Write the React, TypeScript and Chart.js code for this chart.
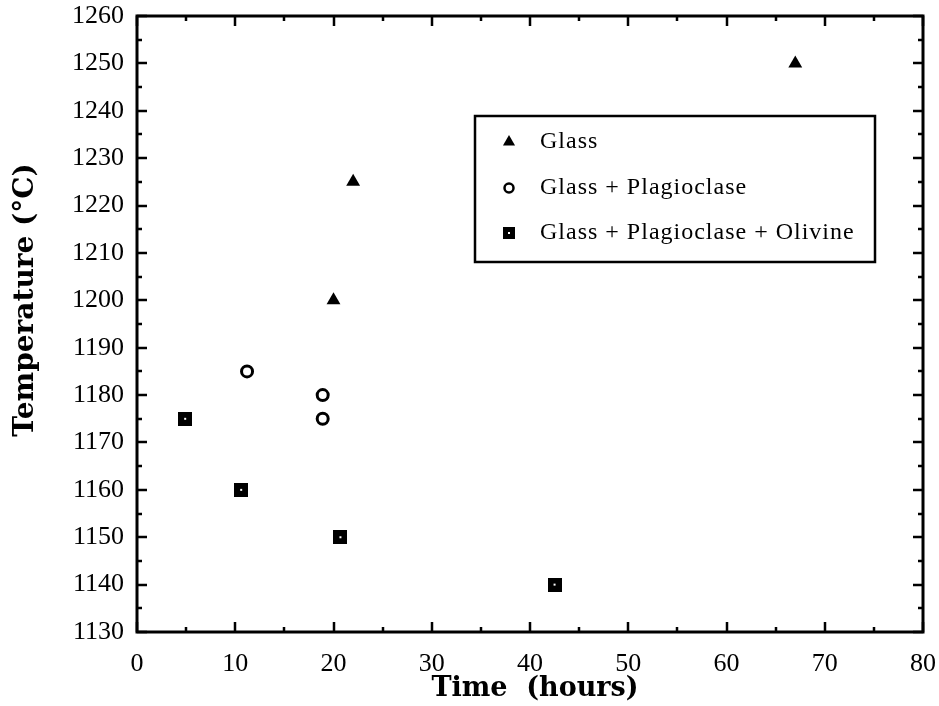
import React, { useEffect, useRef } from 'react';
import { Chart, registerables } from 'chart.js';

Chart.register(...registerables);

// ---- data ----
const glassTime = [20, 22, 67];
const glassTemp = [1200, 1225, 1250];
const plagTime = [11.2, 18.9, 18.9];
const plagTemp = [1185, 1180, 1175];
const olivTime = [4.9, 10.6, 20.7, 42.5];
const olivTemp = [1175, 1160, 1150, 1140];
const seriesLabels = ['Glass', 'Glass + Plagioclase', 'Glass + Plagioclase + Olivine'];
const xTitle = 'Time  (hours)';
const yTitle = 'Temperature (°C)';
const xRange = [0, 80];
const xStep = 10;
const yRange = [1130, 1260];
const yStep = 10;

const W = 939;
const H = 706;
const SERIF = '"Liberation Serif", "Times New Roman", serif';
const BOLD_SERIF = '"DejaVu Serif", serif';

function makeSquare(size: number): HTMLCanvasElement {
  const c = document.createElement('canvas');
  c.width = size;
  c.height = size;
  const g = c.getContext('2d')!;
  g.fillStyle = '#000';
  g.fillRect(0, 0, size, size);
  g.fillStyle = '#fff';
  const d = 2;
  g.fillRect(Math.round(size / 2 - d / 2), Math.round(size / 2 - d / 2), d, d);
  return c;
}

const framePlugin = {
  id: 'frameTicks',
  afterDatasetsDraw(chart: any) {
    const { ctx, chartArea: ca, scales } = chart;
    ctx.save();
    ctx.strokeStyle = '#000';
    ctx.lineWidth = 2.5;
    const major = 10;
    const minor = 5;
    const xs = scales.x;
    const ys = scales.y;
    const xt = xs.ticks.map((t: any) => t.value);
    const yt = ys.ticks.map((t: any) => t.value);
    ctx.beginPath();
    const xLine = (v: number, len: number) => {
      const p = Math.round(xs.getPixelForValue(v));
      ctx.moveTo(p, ca.bottom);
      ctx.lineTo(p, ca.bottom - len);
      ctx.moveTo(p, ca.top);
      ctx.lineTo(p, ca.top + len);
    };
    const yLine = (v: number, len: number) => {
      const p = Math.round(ys.getPixelForValue(v));
      ctx.moveTo(ca.left, p);
      ctx.lineTo(ca.left + len, p);
      ctx.moveTo(ca.right, p);
      ctx.lineTo(ca.right - len, p);
    };
    xt.forEach((v: number, i: number) => {
      xLine(v, major);
      if (i < xt.length - 1) xLine((v + xt[i + 1]) / 2, minor);
    });
    yt.forEach((v: number, i: number) => {
      yLine(v, major);
      if (i < yt.length - 1) yLine((v + yt[i + 1]) / 2, minor);
    });
    ctx.stroke();
    ctx.lineWidth = 3;
    ctx.strokeRect(ca.left, ca.top, ca.right - ca.left, ca.bottom - ca.top);
    ctx.restore();
  },
};

const titlesPlugin = {
  id: 'axisTitles',
  afterDraw(chart: any) {
    const { ctx } = chart;
    ctx.save();
    ctx.fillStyle = '#000';
    ctx.textAlign = 'center';
    ctx.textBaseline = 'middle';
    ctx.font = `bold 27px ${BOLD_SERIF}`;
    ctx.fillText(xTitle, 535, 689);
    ctx.translate(26, 300);
    ctx.rotate(-Math.PI / 2);
    ctx.font = `bold 28px ${BOLD_SERIF}`;
    ctx.fillText(yTitle, 0, 0);
    ctx.restore();
  },
};

const legendPlugin = {
  id: 'boxLegend',
  afterDraw(chart: any) {
    const { ctx } = chart;
    const box = { l: 475, t: 116, r: 875, b: 262 };
    const rows = [142, 188, 233];
    const mx = 509;
    const tx = 540;
    ctx.save();
    ctx.lineWidth = 2.5;
    ctx.strokeStyle = '#000';
    ctx.strokeRect(box.l, box.t, box.r - box.l, box.b - box.t);
    chart.data.datasets.forEach((ds: any, i: number) => {
      const y = rows[i];
      ctx.fillStyle = '#000';
      ctx.strokeStyle = '#000';
      if (ds.pointStyle === 'triangle') {
        const r = 7;
        ctx.beginPath();
        ctx.moveTo(mx, y - r);
        ctx.lineTo(mx + r * 0.866, y + r * 0.5);
        ctx.lineTo(mx - r * 0.866, y + r * 0.5);
        ctx.closePath();
        ctx.fill();
      } else if (ds.pointStyle === 'circle') {
        ctx.beginPath();
        ctx.lineWidth = 2.5;
        ctx.arc(mx, y, 4.5, 0, Math.PI * 2);
        ctx.fillStyle = '#fff';
        ctx.fill();
        ctx.stroke();
      } else {
        const s = 12;
        ctx.fillRect(mx - s / 2, y - s / 2, s, s);
        ctx.fillStyle = '#fff';
        ctx.fillRect(mx - 1, y - 1, 2, 2);
      }
      ctx.fillStyle = '#000';
      ctx.font = `24px ${SERIF}`;
      (ctx as any).letterSpacing = '1px';
      ctx.textBaseline = 'middle';
      ctx.textAlign = 'left';
      ctx.fillText(ds.label, tx, y);
      (ctx as any).letterSpacing = '0px';
    });
    ctx.restore();
  },
};

const zeroPad = (s: any) => {
  s.paddingLeft = 0;
  s.paddingRight = 0;
  s.paddingTop = 0;
  s.paddingBottom = 0;
};

export default function App() {
  const ref = useRef<HTMLCanvasElement>(null);

  useEffect(() => {
    document.body.style.margin = '0';
    let chart: any = null;
    let cancelled = false;
    const fontsReady = Promise.all([
      document.fonts.load(`26px "Liberation Serif"`),
      document.fonts.load(`bold 27px "DejaVu Serif"`),
    ]).catch(() => null);
    fontsReady.then(() => {
      if (cancelled || !ref.current) return;
      const sq = makeSquare(14);
      chart = new Chart(ref.current, {
        type: 'scatter',
        data: {
          datasets: [
            {
              label: seriesLabels[0],
              data: glassTime.map((x, i) => ({ x, y: glassTemp[i] })),
              pointStyle: 'triangle',
              pointRadius: 8,
              backgroundColor: '#000',
              borderColor: '#000',
              borderWidth: 0,
            },
            {
              label: seriesLabels[1],
              data: plagTime.map((x, i) => ({ x, y: plagTemp[i] })),
              pointStyle: 'circle',
              pointRadius: 5.5,
              backgroundColor: '#fff',
              borderColor: '#000',
              borderWidth: 3,
            },
            {
              label: seriesLabels[2],
              data: olivTime.map((x, i) => ({ x, y: olivTemp[i] })),
              pointStyle: sq as any,
              pointRadius: 7,
              backgroundColor: '#000',
              borderColor: '#000',
            },
          ],
        },
        options: {
          responsive: false,
          animation: false,
          events: [],
          layout: { padding: { top: 16, right: 16, left: 0, bottom: 0 } },
          plugins: {
            legend: { display: false },
            tooltip: { enabled: false },
          },
          scales: {
            x: {
              type: 'linear',
              min: xRange[0],
              max: xRange[1],
              grid: { display: false, drawTicks: false },
              border: { display: false },
              ticks: {
                stepSize: xStep,
                color: '#000',
                padding: 17,
                maxRotation: 0,
                callback: (v: any) => String(v),
                font: { family: SERIF, size: 26 },
              },
              title: { display: false, text: xTitle },
              afterFit: (s: any) => {
                s.height = 74;
                zeroPad(s);
              },
            },
            y: {
              type: 'linear',
              min: yRange[0],
              max: yRange[1],
              grid: { display: false, drawTicks: false },
              border: { display: false },
              ticks: {
                stepSize: yStep,
                color: '#000',
                padding: 13,
                callback: (v: any) => String(v),
                font: { family: SERIF, size: 26 },
              },
              title: { display: false, text: yTitle },
              afterFit: (s: any) => {
                s.width = 137;
                zeroPad(s);
              },
            },
          },
        } as any,
        plugins: [framePlugin, titlesPlugin, legendPlugin],
      });
    });
    return () => {
      cancelled = true;
      if (chart) chart.destroy();
    };
  }, []);

  return (
    <div style={{ position: 'fixed', left: 0, top: 0, width: W, height: H, background: '#fff' }}>
      <canvas ref={ref} width={W} height={H} style={{ width: W, height: H, display: 'block' }} />
    </div>
  );
}
